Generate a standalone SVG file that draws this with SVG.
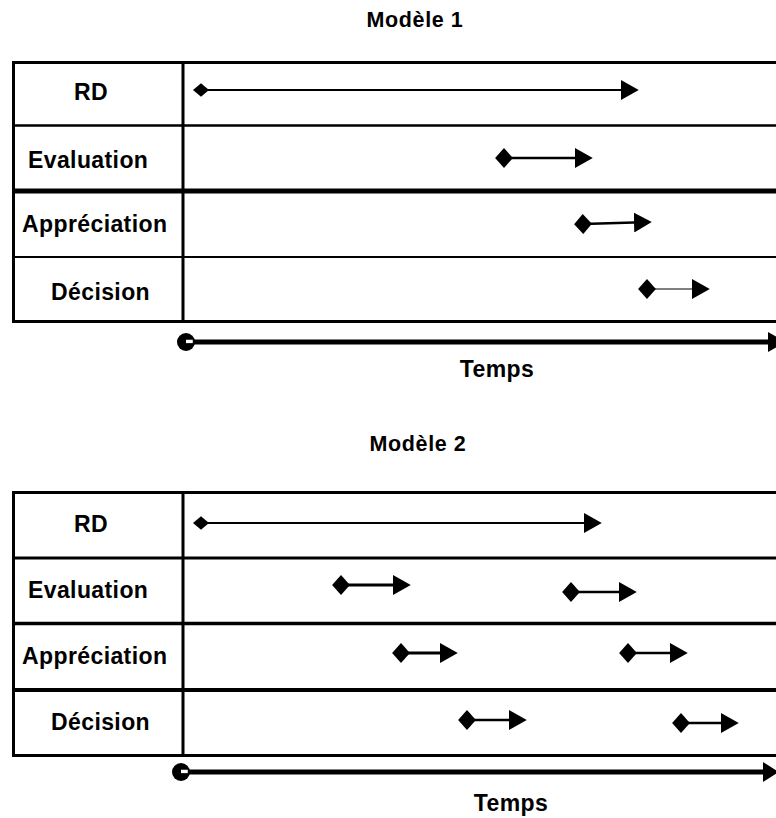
<svg xmlns="http://www.w3.org/2000/svg" width="776" height="818" viewBox="0 0 776 818">
<style>
text{font-family:"Liberation Sans",Arial,sans-serif;font-weight:bold;fill:#000}
.t{font-size:21.5px;letter-spacing:0.6px;text-anchor:middle}
.l{font-size:23px;letter-spacing:0.4px}
.b{stroke:#000;fill:none}
.a{stroke:#000;fill:none;marker-start:url(#dia);marker-end:url(#tri)}
.tl{stroke:#000;stroke-width:5;fill:none;marker-start:url(#dot);marker-end:url(#ttri)}
</style>
<defs>
<marker id="dia" markerUnits="userSpaceOnUse" markerWidth="18" markerHeight="20" refX="8" refY="9" orient="auto" viewBox="0 0 16 18"><path d="M0,9 L8,0 L16,9 L8,18 Z" fill="#000"/></marker>
<marker id="dias" markerUnits="userSpaceOnUse" markerWidth="16" markerHeight="14" refX="7" refY="6" orient="auto" viewBox="0 0 14 12"><path d="M0,6 L7,0 L14,6 L7,12 Z" fill="#000"/></marker>
<marker id="tri" markerUnits="userSpaceOnUse" markerWidth="18" markerHeight="20" refX="0" refY="9" orient="auto" viewBox="0 0 16 18"><path d="M0,0 L16,9 L0,18 Z" fill="#000"/></marker>
<marker id="ttri" markerUnits="userSpaceOnUse" markerWidth="16" markerHeight="20" refX="0" refY="9" orient="auto" viewBox="0 0 14 18"><path d="M0,0 L14,9 L0,18 Z" fill="#000"/></marker>
<marker id="dot" markerUnits="userSpaceOnUse" markerWidth="18" markerHeight="18" refX="8" refY="8" orient="auto" viewBox="0 0 16 16"><circle cx="8" cy="8" r="8" fill="#000"/><rect x="8" y="6" width="6" height="3" fill="#fff"/></marker>
</defs>

<text class="t" x="415" y="27">Modèle 1</text>
<text class="t" x="418" y="451">Modèle 2</text>

<g id="table1">
<path class="b" stroke-width="3" d="M776,62.5 H13.5 V321.5 H776"/>
<path class="b" stroke-width="3" d="M183,62 V321"/>
<path class="b" stroke-width="2.5" d="M13,125.5 H776"/>
<path class="b" stroke-width="5" d="M13,191 H776"/>
<path class="b" stroke-width="2" d="M13,257 H776"/>
</g>
<g id="m1-rd"><text class="l" x="74" y="100">RD</text></g>
<g id="m1-evaluation"><text class="l" x="28" y="168">Evaluation</text></g>
<g id="m1-appreciation"><text class="l" x="22" y="232">Appréciation</text></g>
<g id="m1-decision"><text class="l" x="51" y="300">Décision</text></g>

<g id="table2">
<path class="b" stroke-width="3" d="M776,492.5 H13.5 V755.5 H776"/>
<path class="b" stroke-width="3" d="M183,492 V755"/>
<path class="b" stroke-width="3" d="M13,558 H776"/>
<path class="b" stroke-width="3.5" d="M13,623.5 H776"/>
<path class="b" stroke-width="4" d="M13,690 H776"/>
</g>
<g id="m2-rd"><text class="l" x="74" y="532">RD</text></g>
<g id="m2-evaluation"><text class="l" x="28" y="598">Evaluation</text></g>
<g id="m2-appreciation"><text class="l" x="22" y="664">Appréciation</text></g>
<g id="m2-decision"><text class="l" x="51" y="730">Décision</text></g>

<g id="time1"><text class="l" x="497" y="377" text-anchor="middle">Temps</text></g>
<g id="time2"><text class="l" x="511" y="811" text-anchor="middle">Temps</text></g>

<g id="connectors">
<line class="a" stroke-width="2" x1="201" y1="90" x2="621" y2="90" style="marker-start:url(#dias)"/>
<line class="a" stroke-width="2.5" x1="504" y1="158" x2="575" y2="158"/>
<line class="a" stroke-width="2.5" x1="583" y1="224" x2="634" y2="222.5"/>
<line class="a" stroke-width="1.2" x1="647" y1="289" x2="692" y2="289"/>
<line class="tl" x1="186" y1="342" x2="768" y2="342" style="marker-end:url(#tri)"/>

<line class="a" stroke-width="2" x1="201" y1="523" x2="584" y2="523" style="marker-start:url(#dias)"/>
<line class="a" stroke-width="3" x1="341" y1="585" x2="393" y2="585"/>
<line class="a" stroke-width="2.5" x1="571" y1="592" x2="619" y2="592"/>
<line class="a" stroke-width="3" x1="401" y1="653" x2="440" y2="653"/>
<line class="a" stroke-width="2.5" x1="628" y1="653" x2="670" y2="653"/>
<line class="a" stroke-width="2.5" x1="467" y1="720" x2="509" y2="720"/>
<line class="a" stroke-width="2.5" x1="681" y1="723" x2="721" y2="723"/>
<line class="tl" x1="181" y1="772" x2="763" y2="772"/>
</g>
</svg>
